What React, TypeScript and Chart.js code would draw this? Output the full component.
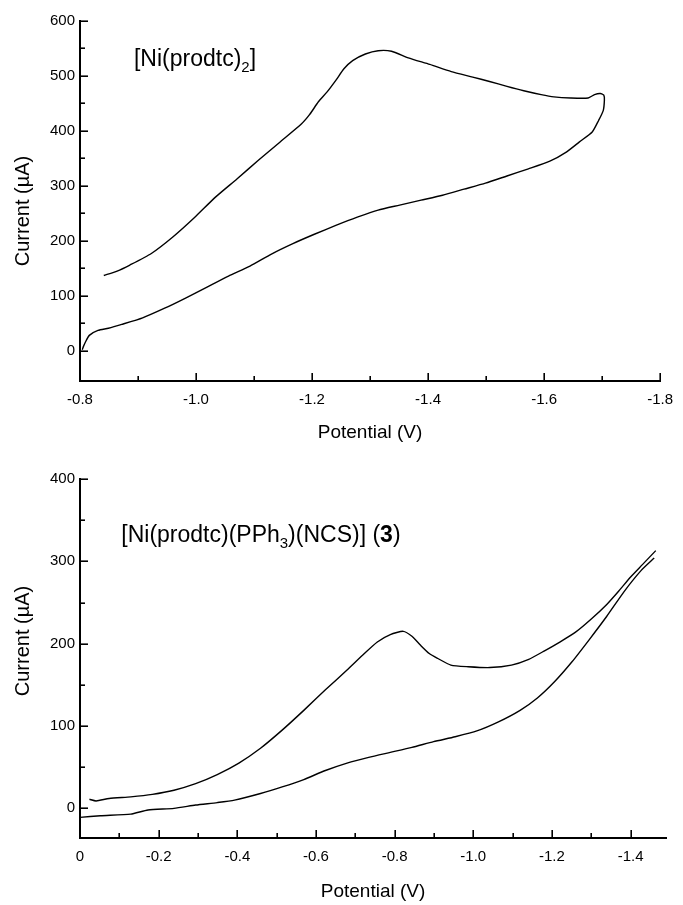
import React, { useEffect, useRef } from 'react';
import { Chart, registerables } from 'chart.js';

Chart.register(...registerables);

// ---------- Top panel: [Ni(prodtc)2] (one closed sweep) ----------
const TOP_X = [
  -0.804, -0.806, -0.809, -0.816, -0.831, -0.849, -0.872, -0.908, -0.945, -0.982, -1.019,
  -1.056, -1.093, -1.13, -1.167, -1.204, -1.241, -1.278, -1.314, -1.351, -1.388,
  -1.425, -1.462, -1.499, -1.536, -1.573, -1.61, -1.639, -1.661, -1.683, -1.694,
  -1.702, -1.704, -1.703, -1.697, -1.687, -1.676, -1.646, -1.617, -1.595, -1.565,
  -1.536, -1.506, -1.477, -1.44, -1.403, -1.366, -1.337, -1.314, -1.292, -1.27,
  -1.255, -1.241, -1.226, -1.211, -1.196, -1.182, -1.145, -1.108, -1.071, -1.034,
  -0.997, -0.96, -0.923, -0.886, -0.864, -0.841,
];
const TOP_Y = [
  2, 8, 15, 28, 37, 41, 48, 60, 77, 96, 116,
  136, 154, 176, 195, 212, 228, 243, 256, 265, 274,
  283, 294, 305, 318, 331, 345, 362, 380, 398, 419,
  437, 456, 465, 468, 466, 460, 460, 462, 466, 473,
  481, 490, 498, 508, 521, 533, 545, 546, 540, 528,
  513, 492, 471, 453, 430, 413, 380, 347, 313, 280,
  242, 207, 177, 156, 145, 137,
];
const TOP_X_LABELS = [-0.8, -1.0, -1.2, -1.4, -1.6, -1.8];
const TOP_X_MINOR = [-0.9, -1.1, -1.3, -1.5, -1.7];
const TOP_Y_LABELS = [0, 100, 200, 300, 400, 500, 600];
const TOP_Y_MINOR = [50, 150, 250, 350, 450, 550];

// ---------- Bottom panel: [Ni(prodtc)(PPh3)(NCS)] (3) ----------
// lower trace
const BOT_LOW_X = [
  0, -0.052, -0.129, -0.173, -0.239, -0.294, -0.349, -0.393, -0.459, -0.514,
  -0.569, -0.624, -0.679, -0.734, -0.789, -0.844, -0.899, -0.954, -1.009, -1.064,
  -1.119, -1.163, -1.207, -1.251, -1.295, -1.339, -1.383, -1.427, -1.46,
];
const BOT_LOW_Y = [
  -11, -9, -7, -2, 0, 4, 7, 10, 18, 26,
  35, 46, 55, 62, 68, 74, 81, 87, 94, 105,
  119, 134, 154, 178, 205, 233, 263, 289, 304,
];
// upper trace
const BOT_UP_X = [
  -1.464, -1.43, -1.40, -1.37, -1.34, -1.30, -1.26, -1.22, -1.18, -1.141, -1.097,
  -1.042, -0.987, -0.943, -0.91, -0.888, -0.866, -0.844, -0.822, -0.789, -0.756,
  -0.723, -0.679, -0.624, -0.569, -0.514, -0.459, -0.404, -0.349, -0.294, -0.239,
  -0.184, -0.129, -0.074, -0.041, -0.024,
];
const BOT_UP_Y = [
  313, 296, 281, 264, 248, 230, 214, 202, 191, 181, 174,
  171, 172, 174, 182, 188, 198, 209, 215, 211, 202,
  188, 168, 144, 119, 95, 73, 55, 41, 30, 22,
  17, 14, 12, 9, 11,
];
const BOT_X_LABELS = [0, -0.2, -0.4, -0.6, -0.8, -1.0, -1.2, -1.4];
const BOT_X_MINOR = [-0.1, -0.3, -0.5, -0.7, -0.9, -1.1, -1.3];
const BOT_Y_LABELS = [0, 100, 200, 300, 400];
const BOT_Y_MINOR = [50, 150, 250, 350];

const FONT = '"Liberation Sans", Arial, Helvetica, sans-serif';

type Seg = { t: string; sub?: boolean; bold?: boolean };

const panelDecor = {
  id: 'panelDecor',
  afterDraw(chart: any, _args: any, opts: any) {
    const { ctx, chartArea } = chart;
    const xs = chart.scales.x;
    const ys = chart.scales.y;
    ctx.save();
    ctx.strokeStyle = '#000';
    ctx.lineWidth = 1.6;
    const xTick = (vals: number[], len: number) => {
      vals.forEach((v) => {
        const px = Math.round(xs.getPixelForValue(v)) + 0.2;
        ctx.beginPath();
        ctx.moveTo(px, chartArea.bottom);
        ctx.lineTo(px, chartArea.bottom - len);
        ctx.stroke();
      });
    };
    const yTick = (vals: number[], len: number) => {
      vals.forEach((v) => {
        const py = Math.round(ys.getPixelForValue(v)) + 0.2;
        ctx.beginPath();
        ctx.moveTo(chartArea.left, py);
        ctx.lineTo(chartArea.left + len, py);
        ctx.stroke();
      });
    };
    xTick(opts.xMajor, 8);
    xTick(opts.xMinor, 5);
    yTick(opts.yMajor, 8);
    yTick(opts.yMinor, 5);

    // y axis title (rotated)
    ctx.fillStyle = '#000';
    ctx.save();
    ctx.translate(opts.yTitleX, opts.yTitleY);
    ctx.rotate(-Math.PI / 2);
    ctx.font = `20px ${FONT}`;
    ctx.textAlign = 'center';
    ctx.textBaseline = 'middle';
    ctx.fillText('Current (\u00B5A)', 0, 0);
    ctx.restore();

    // compound label
    let cx = xs.getPixelForValue(opts.labelAt[0]);
    const by = ys.getPixelForValue(opts.labelAt[1]);
    ctx.textAlign = 'left';
    ctx.textBaseline = 'alphabetic';
    (opts.label as Seg[]).forEach((s) => {
      ctx.font = `${s.bold ? 'bold ' : ''}${s.sub ? 15 : 23}px ${FONT}`;
      ctx.fillText(s.t, cx, by + (s.sub ? 6 : 0));
      cx += ctx.measureText(s.t).width;
    });
    ctx.restore();
  },
};

function trace(xs: number[], ys: number[]) {
  return {
    data: xs.map((x, i) => ({ x, y: ys[i] })),
    showLine: true,
    borderColor: '#000',
    borderWidth: 1.4,
    pointRadius: 0,
    tension: 0.2,
    fill: false,
  };
}

function makeConfig(p: {
  traces: [number[], number[]][];
  xMin: number; xMax: number; yMin: number; yMax: number;
  xLabels: number[]; xMinor: number[]; yLabels: number[]; yMinor: number[];
  padTop: number; padRight: number; xAxisH: number; titlePad: number;
  fmtX: (v: number) => string;
  yTitleX: number; yTitleY: number;
  label: Seg[]; labelAt: [number, number];
}) {
  return {
    type: 'scatter',
    data: { datasets: p.traces.map(([a, b]) => trace(a, b)) },
    options: {
      responsive: false,
      animation: false,
      devicePixelRatio: 1,
      layout: { padding: { top: p.padTop, right: p.padRight, left: 0, bottom: 0 } },
      plugins: {
        legend: { display: false },
        tooltip: { enabled: false },
        panelDecor: {
          xMajor: p.xLabels, xMinor: p.xMinor, yMajor: p.yLabels, yMinor: p.yMinor,
          yTitleX: p.yTitleX, yTitleY: p.yTitleY, label: p.label, labelAt: p.labelAt,
        },
      },
      scales: {
        x: {
          type: 'linear',
          reverse: true,
          min: p.xMin,
          max: p.xMax,
          grid: { display: false, drawTicks: false, tickLength: 0 },
          border: { display: true, color: '#000', width: 2 },
          afterBuildTicks: (s: any) => { s.ticks = p.xLabels.map((v) => ({ value: v })); },
          afterFit: (s: any) => { s.height = p.xAxisH; },
          ticks: {
            autoSkip: false, maxRotation: 0, padding: 10, color: '#000',
            font: { family: FONT, size: 15 },
            callback: (v: any) => p.fmtX(Number(v)),
          },
          title: {
            display: true, text: 'Potential (V)', color: '#000',
            font: { family: FONT, size: 19 }, padding: { top: 0, bottom: p.titlePad },
          },
        },
        y: {
          type: 'linear',
          min: p.yMin,
          max: p.yMax,
          grid: { display: false, drawTicks: false, tickLength: 0 },
          border: { display: true, color: '#000', width: 2 },
          afterBuildTicks: (s: any) => { s.ticks = p.yLabels.map((v) => ({ value: v })); },
          afterFit: (s: any) => { s.width = 80; },
          ticks: {
            autoSkip: false, padding: 5, color: '#000',
            font: { family: FONT, size: 15 },
            callback: (v: any) => String(v),
          },
        },
      },
    },
    plugins: [panelDecor],
  } as any;
}

function Panel(props: { width: number; height: number; top: number; config: any }) {
  const ref = useRef<HTMLCanvasElement>(null);
  useEffect(() => {
    if (!ref.current) return;
    const chart = new Chart(ref.current, props.config);
    return () => chart.destroy();
  }, []);
  return (
    <canvas
      ref={ref}
      width={props.width}
      height={props.height}
      style={{ position: 'absolute', left: 0, top: props.top, width: props.width, height: props.height }}
    />
  );
}

export default function App() {
  const topCfg = makeConfig({
    traces: [[TOP_X, TOP_Y]],
    xMin: -1.8, xMax: -0.8, yMin: -55, yMax: 600,
    xLabels: TOP_X_LABELS, xMinor: TOP_X_MINOR, yLabels: TOP_Y_LABELS, yMinor: TOP_Y_MINOR,
    padTop: 21, padRight: 16, xAxisH: 71, titlePad: 8,
    fmtX: (v) => v.toFixed(1),
    yTitleX: 23, yTitleY: 211,
    label: [{ t: '[Ni(prodtc)' }, { t: '2', sub: true }, { t: ']' }],
    labelAt: [-0.893, 518],
  });
  const botCfg = makeConfig({
    traces: [[BOT_LOW_X, BOT_LOW_Y], [BOT_UP_X, BOT_UP_Y]],
    xMin: -1.49, xMax: 0, yMin: -36, yMax: 400,
    xLabels: BOT_X_LABELS, xMinor: BOT_X_MINOR, yLabels: BOT_Y_LABELS, yMinor: BOT_Y_MINOR,
    padTop: 27, padRight: 17, xAxisH: 67, titlePad: 2,
    fmtX: (v) => (v === 0 ? '0' : v.toFixed(1)),
    yTitleX: 23, yTitleY: 189,
    label: [
      { t: '[Ni(prodtc)(PPh' }, { t: '3', sub: true }, { t: ')(NCS)] (' },
      { t: '3', bold: true }, { t: ')' },
    ],
    labelAt: [-0.105, 324],
  });
  return (
    <div style={{ position: 'absolute', left: 0, top: 0, width: 683, height: 905, background: '#fff' }}>
      <Panel width={683} height={452} top={0} config={topCfg} />
      <Panel width={683} height={453} top={452} config={botCfg} />
    </div>
  );
}
